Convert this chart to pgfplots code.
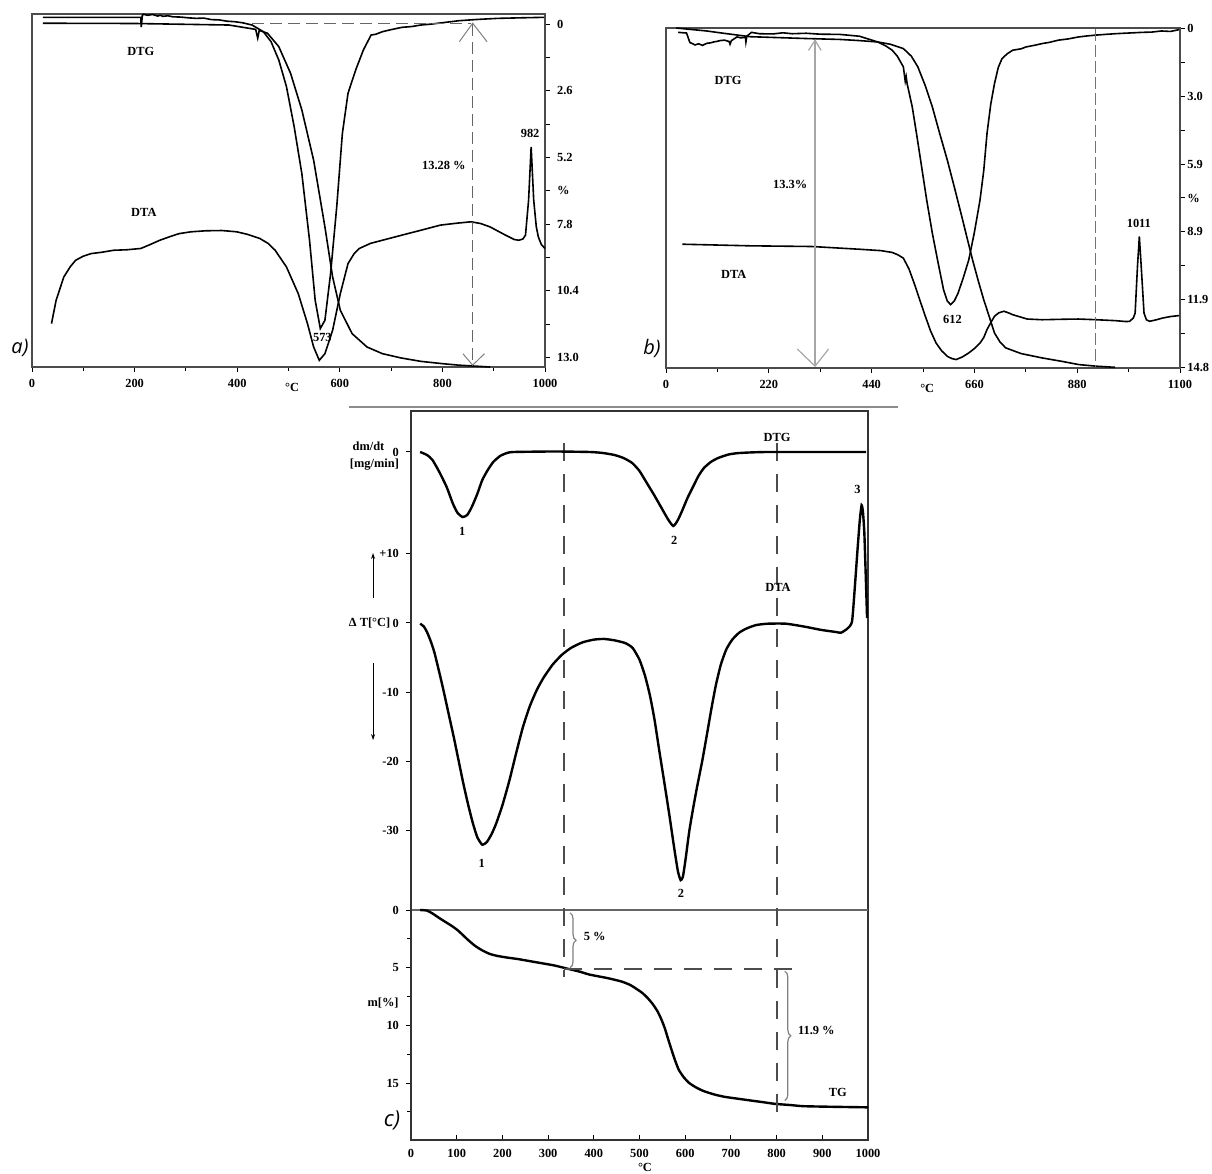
\documentclass[border=0pt]{standalone}
\usepackage{fontspec}
\setmainfont{Liberation Serif}
\newfontfamily\labfont{Open Sans}
\usepackage{pgfplots}
\pgfplotsset{compat=1.18}
\usetikzlibrary{decorations.pathreplacing,arrows.meta}

\newcommand\lab{\bfseries\fontsize{6.2}{7}\selectfont}

\pgfplotsset{
  tafig/.style={
    scale only axis, anchor=south west, clip=false,
    axis line style={black!70, line width=0.7pt},
    tick style={black, line width=0.5pt},
    major tick length=2.5pt, minor tick length=1.8pt,
    tick align=outside,
    tick label style={font=\lab},
    /pgf/number format/assume math mode=true,
    /pgf/number format/1000 sep={},
    scaled ticks=false,
  },
  crv/.style={black, line width=0.8pt, no marks},
  crvc/.style={black, line width=1.2pt, no marks, smooth, tension=0.35},
}

\begin{document}
\begin{tikzpicture}
\path[use as bounding box] (0,0) rectangle (606pt,587pt);

%% ---------------- a) ----------------
\begin{axis}[tafig, at={(16pt,403.5pt)}, width=256.5pt, height=176.5pt,
  xmin=0, xmax=1000, ymin=-0.39, ymax=13.37, y dir=reverse,
  xtick={0,200,...,1000}, minor x tick num=1, xtick pos=left,
  ytick pos=right,
  ytick={0,1.3,2.6,3.9,5.2,6.5,7.8,9.1,10.4,11.7,13},
  yticklabels={0,,2.6,,5.2,\%,7.8,,10.4,,13.0}]
% DTG
\addplot[crv] coordinates {
(21,-0.26) (212,-0.26) (213,0.12) (215,-0.32) (217,-0.38) (225,-0.34) (235,-0.37)
(245,-0.31) (250,-0.34) (255,-0.30) (265,-0.32) (275,-0.28) (290,-0.27) (305,-0.24)
(320,-0.22) (335,-0.23) (350,-0.17) (365,-0.16) (380,-0.11) (395,-0.09) (410,-0.05)
(429,0.04) (451,0.30) (466,0.69) (481,1.40) (496,2.44) (511,4.0) (526,5.83)
(541,8.43) (552,10.77) (562,11.87) (571,11.55) (582,9.73) (594,7.13) (605,4.27)
(616,2.70) (631,1.79) (646,1.01) (661,0.43) (670,0.40) (683,0.30) (700,0.22)
(721,0.13) (740,0.10) (758,0.04) (780,0.0) (800,-0.05) (833,-0.13) (870,-0.18)
(908,-0.22) (950,-0.24) (998,-0.26)};
% TG
\addplot[crv] coordinates {
(21,-0.03) (200,-0.02) (384,0.04) (436,0.21) (440,0.55) (443,0.25) (459,0.36)
(481,0.88) (504,1.92) (526,3.35) (549,5.31) (571,7.91) (586,9.86) (601,11.16)
(624,12.07) (653,12.59) (683,12.85) (720,13.02) (758,13.15) (800,13.24) (833,13.30) (893,13.37)};
% DTA
\addplot[crv] coordinates {
(38,11.68) (47,10.77) (62,9.86) (75,9.45) (85,9.21) (100,9.05) (115,8.95) (135,8.90)
(159,8.82) (185,8.80) (212,8.75) (230,8.60) (249,8.43) (270,8.28) (287,8.17)
(310,8.10) (339,8.06) (370,8.05) (399,8.10) (420,8.20) (444,8.36) (460,8.55)
(474,8.82) (496,9.47) (519,10.51) (537,11.68) (549,12.59) (560,13.11) (571,12.85)
(586,11.94) (601,10.51) (616,9.34) (628,8.95) (638,8.75) (660,8.55) (683,8.43)
(721,8.23) (758,8.04) (796,7.84) (830,7.76) (856,7.71) (875,7.78) (893,7.91)
(923,8.23) (940,8.40) (949,8.43) (957,8.38) (962,8.23) (968,6.87) (973,4.79)
(978,6.87) (983,7.90) (987,8.30) (993,8.60) (1000,8.75)};
\draw[black!60, line width=0.6pt, dash pattern=on 6pt off 3pt]
  (axis cs:429,-0.03) -- (axis cs:856,-0.03);
\draw[black!60, line width=0.6pt, dash pattern=on 6pt off 3pt]
  (axis cs:859,0) -- (axis cs:859,13.3);
\draw[black!50, line width=0.5pt] (axis cs:833,0.69) -- (axis cs:859,-0.03) -- (axis cs:887,0.69);
\draw[black!50, line width=0.5pt] (axis cs:840,12.85) -- (axis cs:859,13.3) -- (axis cs:882,12.85);
\node[font=\lab] at (axis cs:212,1.08) {DTG};
\node[font=\lab] at (axis cs:218,7.36) {DTA};
\node[font=\lab] at (axis cs:566,12.2) {573};
\node[font=\lab] at (axis cs:971,4.27) {982};
\node[font=\lab] at (axis cs:803,5.5) {13.28 \%};
\node[font=\lab] at (axis cs:507,13.37) [yshift=-10pt] {°C};
\end{axis}
\node[font=\labfont\itshape\fontsize{10}{12}\selectfont] at (10pt,413pt) {a)};

%% ---------------- b) ----------------
\begin{axis}[tafig, at={(333pt,403pt)}, width=257pt, height=170pt,
  xmin=0, xmax=1100, ymin=-0.03, ymax=14.83, y dir=reverse,
  xtick={0,220,...,1100}, minor x tick num=1, xtick pos=left,
  ytick pos=right, yticklabel style={inner sep=1pt},
  ytick={0,1.48,2.96,4.44,5.92,7.4,8.88,10.36,11.84,13.32,14.8},
  yticklabels={0,,3.0,,5.9,\%,8.9,,11.9,,14.8}]
% DTG
\addplot[crv] coordinates {
(26,0.16) (44,0.19) (51,0.60) (62,0.71) (70,0.66) (78,0.73) (87,0.64) (95,0.62)
(102,0.58) (110,0.55) (116,0.52) (125,0.50) (135,0.56) (137,0.68) (140,0.52)
(152,0.36) (160,0.40) (170,0.38) (171,0.58) (173,0.33) (183,0.16) (200,0.22)
(229,0.23) (250,0.18) (270,0.22) (300,0.20) (330,0.24) (372,0.25) (414,0.33)
(453,0.58) (470,0.75) (484,0.94) (495,1.20) (508,1.67) (512,2.30) (514,2.10)
(516,2.40) (527,3.42) (537,4.70) (547,6.03) (558,7.50) (570,8.94) (582,10.20)
(594,11.41) (602,11.90) (609,12.06) (617,11.90) (625,11.56) (636,10.90) (648,10.10)
(660,8.90) (672,7.49) (680,6.20) (687,4.58) (695,3.30) (703,2.40) (711,1.70)
(719,1.31) (730,1.10) (742,0.94) (760,0.88) (770,0.80) (790,0.72) (805,0.65)
(820,0.60) (840,0.50) (860,0.45) (883,0.36) (900,0.32) (920,0.28) (940,0.25)
(961,0.22) (980,0.20) (1000,0.18) (1020,0.16) (1039,0.15) (1060,0.10) (1080,0.12) (1098,0.04)};
% TG
\addplot[crv] coordinates {
(22,-0.03) (87,0.10) (123,0.20) (180,0.35) (300,0.43) (372,0.47) (414,0.52)
(453,0.58) (480,0.68) (508,0.87) (525,1.20) (539,1.67) (555,2.50) (570,3.42)
(586,4.60) (602,5.74) (618,7.00) (633,8.21) (645,9.20) (656,10.10) (668,11.00)
(680,11.85) (692,12.60) (703,13.30) (715,13.70) (727,13.95) (760,14.20) (805,14.39)
(850,14.55) (883,14.68) (920,14.75) (961,14.80)};
% DTA
\addplot[crv] coordinates {
(35,9.42) (180,9.49) (312,9.52) (414,9.64) (460,9.70) (484,9.78) (496,9.88)
(508,10.03) (520,10.50) (531,11.12) (543,11.85) (555,12.57) (566,13.20) (578,13.74)
(590,14.08) (602,14.32) (612,14.42) (621,14.46) (634,14.35) (648,14.17) (660,13.98)
(672,13.74) (680,13.50) (687,13.15) (695,12.85) (703,12.57) (712,12.42) (723,12.35)
(733,12.42) (742,12.50) (773,12.69) (805,12.72) (850,12.70) (883,12.69) (920,12.72)
(961,12.76) (985,12.80) (992,12.79) (1000,12.65) (1004,12.43) (1009,10.39) (1013,9.08)
(1017,10.39) (1023,12.43) (1028,12.72) (1035,12.79) (1050,12.72) (1062,12.65)
(1080,12.58) (1098,12.54)};
\draw[black!35, line width=0.7pt] (axis cs:319,0.51) -- (axis cs:319,14.75);
\draw[black!35, line width=0.6pt] (axis cs:305,0.95) -- (axis cs:319,0.51) -- (axis cs:332,0.95);
\draw[black!35, line width=0.6pt] (axis cs:281,14.0) -- (axis cs:319,14.75) -- (axis cs:348,14.0);
\draw[black!55, line width=0.5pt, dash pattern=on 6pt off 2pt] (axis cs:920,0) -- (axis cs:920,14.8);
\node[font=\lab] at (axis cs:133,2.25) {DTG};
\node[font=\lab] at (axis cs:145,10.76) {DTA};
\node[font=\lab] at (axis cs:266,6.83) {13.3\%};
\node[font=\lab] at (axis cs:613,12.72) {612};
\node[font=\lab] at (axis cs:1012,8.53) {1011};
\node[font=\lab] at (axis cs:559,14.83) [yshift=-10pt] {°C};
\end{axis}
\node[font=\labfont\itshape\fontsize{10}{12}\selectfont] at (326pt,413pt) {b)};

%% ---------------- c) ----------------
\draw[black!45, line width=1.2pt] (174.5pt,383.5pt) -- (449pt,383.5pt);

% box, x axis and TG
\begin{axis}[tafig, at={(205.5pt,17pt)}, width=228.5pt, height=364.5pt,
  axis line style={black!80, line width=0.8pt},
  xmin=0, xmax=1000, ymin=-43.24, ymax=19.93, y dir=reverse,
  xtick={0,100,...,1000}, xtick pos=left, tick align=inside, ytick=\empty,
  xticklabel style={yshift=-1pt}]
\draw[black!60, line width=1pt] (axis cs:0,0) -- (axis cs:1000,0);
\addplot[crvc] coordinates {
(20,0) (35,0.05) (47,0.3) (62,0.7) (78,1.1) (90,1.4) (102,1.75) (113,2.15) (125,2.6)
(140,3.1) (156,3.5) (172,3.8) (188,3.97) (210,4.12) (234,4.25) (270,4.5) (313,4.8)
(344,5.1) (370,5.35) (391,5.6) (430,5.9) (461,6.2) (480,6.5) (492,6.8) (505,7.15)
(516,7.55) (528,8.1) (539,8.75) (547,9.4) (555,10.2) (562,11.1) (570,12.1) (578,13.05)
(586,13.85) (597,14.5) (609,15.0) (625,15.4) (641,15.7) (665,16.0) (688,16.2)
(715,16.35) (742,16.5) (770,16.65) (797,16.8) (830,16.9) (859,17.0) (920,17.05) (1000,17.1)};
\draw[black!70, line width=1pt, dash pattern=on 9pt off 6.5pt]
  (axis cs:334,-40.5) -- (axis cs:334,5.8);
\draw[black!70, line width=1pt, dash pattern=on 9pt off 6.5pt]
  (axis cs:801,-40.5) -- (axis cs:801,17.6);
\draw[black!70, line width=1pt, dash pattern=on 9pt off 6pt]
  (axis cs:334,5.1) -- (axis cs:840,5.1);
\draw[black!50, line width=0.6pt, decorate, decoration={brace, amplitude=3pt}]
  (axis cs:348,0.25) -- (axis cs:348,5.0);
\draw[black!50, line width=0.6pt, decorate, decoration={brace, amplitude=3pt}]
  (axis cs:818,5.3) -- (axis cs:818,16.5);
\node[font=\lab] at (axis cs:402,2.3) {5 \%};
\node[font=\lab] at (axis cs:887,10.4) {11.9 \%};
\node[font=\lab] at (axis cs:934,15.8) {TG};
\node[font=\lab] at (axis cs:512,19.93) [yshift=-13.5pt] {°C};
\end{axis}

% TG ticks
\begin{axis}[tafig, at={(205.5pt,17pt)}, width=228.5pt, height=364.5pt,
  axis line style={black!80, line width=0.8pt},
  xmin=0, xmax=1000, ymin=-43.24, ymax=19.93, y dir=reverse,
  axis x line=none, axis y line*=left,
  ytick={0,5,10,15}, minor ytick={2.5,7.5,12.5,17.5}]
\node[font=\lab] at (axis cs:-61,8.1) {m[\%]};
\end{axis}

% DTA
\begin{axis}[tafig, at={(205.5pt,17pt)}, width=228.5pt, height=364.5pt,
  axis line style={black!80, line width=0.8pt},
  xmin=0, xmax=1000, ymin=-74.6, ymax=30.59,
  axis x line=none, axis y line*=left,
  ytick={-30,-20,-10,0,10}, yticklabels={-30,-20,-10,0,+10}]
\addplot[crvc] coordinates {
(20,-0.1) (28,-0.5) (35,-1.3) (43,-2.6) (51,-4.2) (60,-6.6) (70,-9.4) (82,-13.0)
(94,-16.6) (104,-19.8) (114,-23.0) (125,-26.2) (135,-28.8) (145,-30.9) (156,-32.0)
(166,-31.6) (176,-30.5) (186,-29.0) (200,-26.3) (215,-22.8) (230,-18.8) (245,-15.0)
(260,-12.0) (275,-9.7) (290,-7.9) (310,-6.0) (330,-4.6) (350,-3.6) (375,-2.8)
(400,-2.4) (422,-2.3) (445,-2.5) (469,-2.9) (485,-3.6) (500,-5.3) (512,-7.6)
(523,-10.5) (533,-14.0) (543,-18.3) (555,-23.3) (566,-28.0) (576,-32.5) (584,-35.8)
(590,-37.1) (595,-36.6) (601,-34.0) (609,-30.0) (618,-26.5) (627,-23.3) (637,-20.0)
(647,-16.3) (657,-12.5) (667,-9.0) (678,-6.0) (690,-3.8) (703,-2.4) (718,-1.4)
(734,-0.8) (755,-0.3) (781,-0.1) (820,-0.1) (859,-0.5) (898,-1.0) (930,-1.3) (941,-1.4)
(955,-0.8) (965,0.2) (971,5.0) (977,10.5) (982,14.8) (986,17.0) (989,16.0)
(992,13.0) (995,7.0) (998,0.7)};
\node[font=\lab] at (axis cs:155,-33.6) [yshift=-4pt] {1};
\node[font=\lab] at (axis cs:591,-39) {2};
\node[font=\lab] at (axis cs:977,19.2) {3};
\node[font=\lab] at (axis cs:803,5.1) {DTA};
\node[font=\lab, anchor=east] at (axis cs:-30,0) {Δ T[°C]};
\draw[black, line width=0.5pt, -{Stealth[length=3pt,width=2pt]}]
  (axis cs:-83,3.6) -- (axis cs:-83,10.1);
\draw[black, line width=0.5pt, -{Stealth[length=3pt,width=2pt]}]
  (axis cs:-83,-5.8) -- (axis cs:-83,-16.9);
\end{axis}

% DTG
\begin{axis}[tafig, at={(205.5pt,17pt)}, width=228.5pt, height=364.5pt,
  axis line style={black!80, line width=0.8pt},
  xmin=0, xmax=1000, ymin=-68.8, ymax=4.1,
  axis x line=none, axis y line*=left,
  ytick={0}]
\addplot[crvc] coordinates {
(20,0) (35,-0.3) (47,-0.8) (62,-2.0) (78,-3.5) (92,-5.2) (102,-6.1) (113,-6.5)
(123,-6.3) (133,-5.5) (145,-4.2) (156,-2.8) (168,-1.8) (180,-1.0) (195,-0.4)
(210,-0.1) (225,0) (313,0.05) (391,0) (420,-0.1) (445,-0.3) (465,-0.6) (484,-1.1)
(500,-1.9) (516,-3.1) (532,-4.3) (547,-5.5) (562,-6.7) (574,-7.4) (584,-6.8)
(594,-5.8) (605,-4.6) (617,-3.5) (629,-2.4) (641,-1.6) (656,-1.0) (672,-0.6)
(695,-0.25) (719,-0.1) (781,0) (996,0)};
\node[font=\lab] at (axis cs:112,-7.9) {1};
\node[font=\lab] at (axis cs:576,-8.8) {2};
\node[font=\lab] at (axis cs:801,1.5) {DTG};
\node[font=\lab] at (axis cs:-93,0.6) {dm/dt};
\node[font=\lab] at (axis cs:-80,-1.3) {[mg/min]};
\end{axis}
\node[font=\labfont\itshape\fontsize{11}{13}\selectfont] at (196pt,27pt) {c)};
\end{tikzpicture}
\end{document}
